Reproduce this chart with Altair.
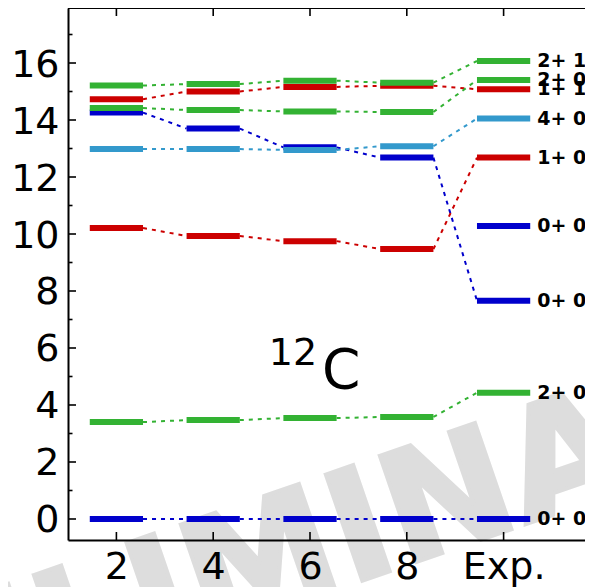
import altair as alt
import pandas as pd

# ---------------- data ----------------
N_MAX = [2, 4, 6, 8]           # model-space truncations
EXP_POS = 10                   # x position of the experimental column
X_TICKS = [2, 4, 6, 8, 10]
X_TICK_LABELS = ["2", "4", "6", "8", "Exp."]
Y_MAJOR = [0, 2, 4, 6, 8, 10, 12, 14, 16]
Y_MINOR = [1, 3, 5, 7, 9, 11, 13, 15, 17]

# calculated excitation energies (MeV) for Nmax = 2, 4, 6, 8
calc_0p0_gs = [0.00, 0.00, 0.00, 0.00]
calc_0p0_2 = [14.26, 13.70, 13.04, 12.68]
calc_1p0 = [10.21, 9.93, 9.75, 9.47]
calc_1p1 = [14.73, 15.00, 15.16, 15.20]
calc_4p0 = [12.98, 12.98, 12.95, 13.08]
calc_2p0_1 = [3.40, 3.47, 3.54, 3.58]
calc_2p0_2 = [14.42, 14.35, 14.30, 14.28]
calc_2p1 = [15.21, 15.26, 15.38, 15.31]

series_calc = [calc_0p0_gs, calc_0p0_2, calc_1p0, calc_1p1,
               calc_4p0, calc_2p0_1, calc_2p0_2, calc_2p1]
series_exp = [0.00, 7.66, 12.68, 15.08, 14.05, 4.43, 15.40, 16.07]
series_label = ["0+ 0", "0+ 0", "1+ 0", "1+ 1", "4+ 0", "2+ 0", "2+ 0", "2+ 1"]
series_color = ["blue", "blue", "red", "red", "lightblue", "green", "green", "green"]

# experimental level without a calculated partner
extra_exp = [10.28]
extra_label = ["0+ 0"]
extra_color = ["blue"]

COLOR_KEYS = ["blue", "red", "lightblue", "green"]
COLOR_VALUES = ["#0000cc", "#cc0000", "#3399cc", "#33b233"]

# ---------------- tables ----------------
bars, segs, labels = [], [], []
for calc, ex, lab, col in zip(series_calc, series_exp, series_label, series_color):
    xs = N_MAX + [EXP_POS]
    es = calc + [ex]
    rank = COLOR_KEYS.index(col)
    for x, e in zip(xs, es):
        bars.append({"x": x, "E": e, "c": col, "rank": rank})
    for i in range(len(xs) - 1):
        segs.append({"xa": xs[i], "ea": es[i], "xb": xs[i + 1], "eb": es[i + 1],
                     "c": col, "rank": rank})
    labels.append({"x": EXP_POS, "E": ex, "t": lab})
for ex, lab, col in zip(extra_exp, extra_label, extra_color):
    bars.append({"x": EXP_POS, "E": ex, "c": col, "rank": COLOR_KEYS.index(col)})
    labels.append({"x": EXP_POS, "E": ex, "t": lab})

bars_df = pd.DataFrame(bars).sort_values("rank", kind="stable")
segs_df = pd.DataFrame(segs).sort_values("rank", kind="stable")
labels_df = pd.DataFrame(labels)

# ---------------- geometry / style ----------------
W, H = 517, 532
HALF = 0.55
FONT = "DejaVu Sans"
xscale = alt.Scale(domain=[1, 1 + W / 48.4], nice=False, zero=False)
yscale = alt.Scale(domain=[-0.737, 17.93], nice=False, zero=False)
cscale = alt.Scale(domain=COLOR_KEYS, range=COLOR_VALUES)

label_expr = "datum.label"
for v, t in zip(X_TICKS, X_TICK_LABELS):
    label_expr = f"datum.value == {v} ? '{t}' : (" + label_expr + ")"

x_axis = alt.Axis(values=X_TICKS, labelExpr=label_expr, ticks=False, tickSize=0,
                  grid=False, domainColor="black", domainWidth=2,
                  labelFontSize=38, labelFont=FONT, labelColor="black",
                  labelPadding=8, title=None, zindex=1, labelFlush=False)
y_axis = alt.Axis(values=Y_MAJOR, ticks=False, tickSize=0, grid=False,
                  domainColor="black", domainWidth=2, labelFontSize=38,
                  labelFont=FONT, labelColor="black", labelPadding=9,
                  labelOffset=2, title=None, zindex=1, labelFlush=False)

watermark = alt.Chart(pd.DataFrame({"t": ["PRELIMINARY"]})).mark_text(
    font=FONT, fontSize=154, fontWeight="bold", color="#dddddd",
    stroke="#dddddd", strokeWidth=4, strokeJoin="miter",
    angle=341, align="center", baseline="middle"
).encode(x=alt.value(210), y=alt.value(553), text="t:N")

connectors = alt.Chart(segs_df).transform_calculate(
    x1=f"datum.xa + {HALF}", x2=f"datum.xb - {HALF}"
).mark_rule(strokeWidth=2, strokeDash=[4, 5]).encode(
    x=alt.X("x1:Q", scale=xscale, axis=x_axis),
    x2="x2:Q",
    y=alt.Y("ea:Q", scale=yscale, axis=y_axis),
    y2="eb:Q",
    color=alt.Color("c:N", scale=cscale, legend=None),
    order=alt.Order("rank:Q"),
)

levels = alt.Chart(bars_df).transform_calculate(
    xl=f"datum.x - {HALF}", xr=f"datum.x + {HALF}"
).mark_rule(strokeWidth=6, strokeCap="butt").encode(
    x=alt.X("xl:Q", scale=xscale, axis=x_axis),
    x2="xr:Q",
    y=alt.Y("E:Q", scale=yscale, axis=y_axis),
    color=alt.Color("c:N", scale=cscale, legend=None),
    order=alt.Order("rank:Q"),
)

level_text = alt.Chart(labels_df).transform_calculate(
    xt=f"datum.x + {HALF}"
).mark_text(font=FONT, fontSize=19, fontWeight="bold", color="black",
            align="left", baseline="middle", dx=7).encode(
    x=alt.X("xt:Q", scale=xscale, axis=x_axis),
    y=alt.Y("E:Q", scale=yscale, axis=y_axis),
    text="t:N",
)

nucleus = pd.DataFrame({"x": [5.15, 6.25], "E": [5.40, 4.60],
                        "t": ["12", "C"], "s": [38, 55]})
nucleus_text = alt.Chart(nucleus).mark_text(
    font=FONT, color="black", align="left", baseline="alphabetic"
).encode(
    x=alt.X("x:Q", scale=xscale, axis=x_axis),
    y=alt.Y("E:Q", scale=yscale, axis=y_axis),
    text="t:N",
    size=alt.Size("s:Q", scale=None, legend=None),
)

ymaj = pd.DataFrame({"v": Y_MAJOR})
ymin = pd.DataFrame({"v": Y_MINOR})
xmaj = pd.DataFrame({"v": X_TICKS})
TK = dict(color="black", strokeWidth=1.6)

left_major = alt.Chart(ymaj).mark_rule(**TK).encode(
    y=alt.Y("v:Q", scale=yscale, axis=y_axis), x=alt.value(0), x2=alt.value(8))
left_minor = alt.Chart(ymin).mark_rule(**TK).encode(
    y=alt.Y("v:Q", scale=yscale, axis=y_axis), x=alt.value(0), x2=alt.value(4.5))
bottom_major = alt.Chart(xmaj).mark_rule(**TK).encode(
    x=alt.X("v:Q", scale=xscale, axis=x_axis), y=alt.value(H - 8), y2=alt.value(H))
top_major = alt.Chart(xmaj).mark_rule(**TK).encode(
    x=alt.X("v:Q", scale=xscale, axis=x_axis), y=alt.value(0), y2=alt.value(8))
top_spine = alt.Chart(xmaj.head(1)).mark_rule(color="black", strokeWidth=2).encode(
    x=alt.value(0), x2=alt.value(W), y=alt.value(0))

chart = alt.layer(
    watermark, connectors, levels, level_text, nucleus_text,
    left_major, left_minor, bottom_major, top_major, top_spine,
).properties(
    width=W, height=H,
    padding={"left": 60, "top": 0, "right": 0, "bottom": 47},
    autosize=alt.AutoSizeParams(type="none"),
).configure_view(stroke=None)

chart.save("out.html", embed_options={"renderer": "svg", "actions": False})
